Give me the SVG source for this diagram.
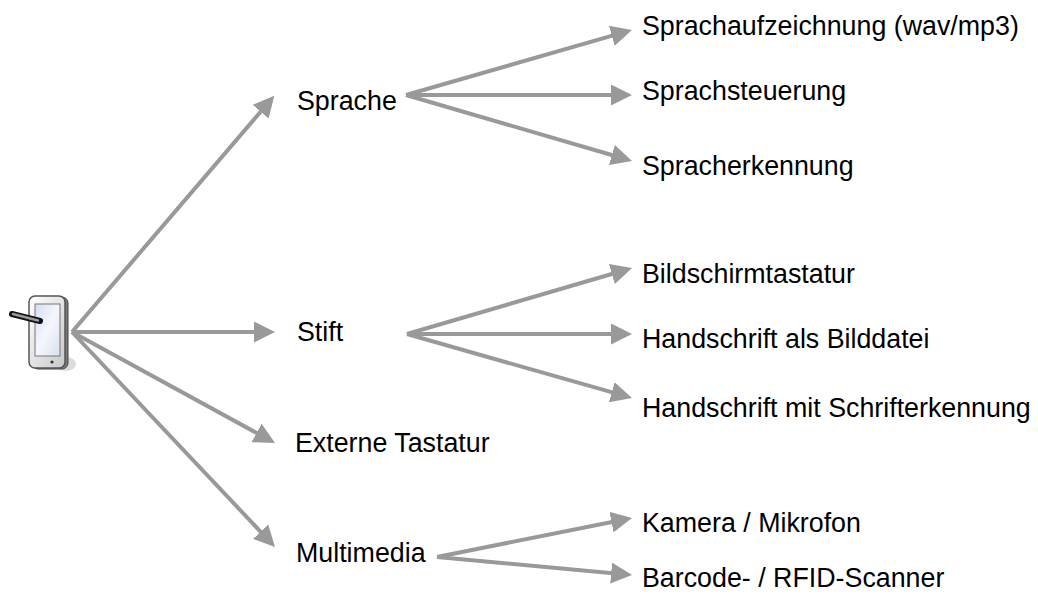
<svg xmlns="http://www.w3.org/2000/svg" width="1038" height="597" viewBox="0 0 1038 597">
<style>
.lbl{font-family:"Liberation Sans",Arial,sans-serif;font-size:26.8px;fill:#000}
.con{stroke:#999;stroke-width:4;fill:none;marker-end:url(#ah)}
</style>
<defs>
<marker id="ah" viewBox="0 0 21 21" markerWidth="21" markerHeight="21" markerUnits="userSpaceOnUse" refX="7" refY="10.5" orient="auto">
<path d="M0,0 L21,10.5 L0,21 z" fill="#999"/>
</marker>
<linearGradient id="bez" x1="0" y1="0" x2="1" y2="1">
<stop offset="0" stop-color="#ffffff"/>
<stop offset="1" stop-color="#c8c8c8"/>
</linearGradient>
<linearGradient id="scr" x1="0" y1="0" x2="1" y2="1">
<stop offset="0" stop-color="#d4def0"/>
<stop offset="0.5" stop-color="#f4f7fd"/>
<stop offset="1" stop-color="#d8e0ee"/>
</linearGradient>
</defs>
<g id="tablet">
<ellipse cx="66" cy="364" rx="10" ry="7" fill="#dcdcdc"/>
<rect x="32" y="297" width="36" height="72" rx="6" fill="#7a7a7a" stroke="#444" stroke-width="1"/>
<rect x="29" y="296" width="36" height="72" rx="6" fill="url(#bez)" stroke="#555" stroke-width="1.5"/>
<rect x="35" y="304" width="25" height="52" fill="url(#scr)" stroke="#777" stroke-width="1"/>
<circle cx="52" cy="362" r="1.6" fill="#333"/>
<line x1="12" y1="314" x2="40" y2="321" stroke="#111" stroke-width="6" stroke-linecap="round"/>
<line x1="13" y1="314" x2="38" y2="320.5" stroke="#9a9a9a" stroke-width="2.5" stroke-linecap="round"/>
</g>
<g id="connectors">
<line class="con" x1="72" y1="332" x2="265.2" y2="106.4"/>
<line class="con" x1="72" y1="332" x2="261" y2="332"/>
<line class="con" x1="72" y1="332" x2="262.7" y2="436.3"/>
<line class="con" x1="72" y1="332" x2="265.4" y2="536.8"/>
<line class="con" x1="406" y1="95" x2="618.5" y2="33.8"/>
<line class="con" x1="406" y1="95" x2="618" y2="95"/>
<line class="con" x1="406" y1="95" x2="618.6" y2="157"/>
<line class="con" x1="407" y1="334" x2="618.6" y2="272"/>
<line class="con" x1="407" y1="334" x2="618" y2="334"/>
<line class="con" x1="407" y1="334" x2="618.5" y2="394.2"/>
<line class="con" x1="437" y1="557" x2="618.3" y2="520.7"/>
<line class="con" x1="437" y1="557" x2="618.1" y2="573.7"/>
</g>
<g id="n-sprache"><text class="lbl" x="297" y="110">Sprache</text></g>
<g id="n-stift"><text class="lbl" x="297" y="341">Stift</text></g>
<g id="n-externe"><text class="lbl" x="295" y="452">Externe Tastatur</text></g>
<g id="n-multimedia"><text class="lbl" x="296" y="562">Multimedia</text></g>
<g id="n-sprachaufzeichnung"><text class="lbl" x="642" y="35">Sprachaufzeichnung (wav/mp3)</text></g>
<g id="n-sprachsteuerung"><text class="lbl" x="642" y="100">Sprachsteuerung</text></g>
<g id="n-spracherkennung"><text class="lbl" x="642" y="175">Spracherkennung</text></g>
<g id="n-bildschirmtastatur"><text class="lbl" x="642" y="283">Bildschirmtastatur</text></g>
<g id="n-handschrift-bild"><text class="lbl" x="642" y="348">Handschrift als Bilddatei</text></g>
<g id="n-handschrift-schrift"><text class="lbl" x="642" y="417">Handschrift mit Schrifterkennung</text></g>
<g id="n-kamera"><text class="lbl" x="642" y="532">Kamera / Mikrofon</text></g>
<g id="n-barcode"><text class="lbl" x="642" y="587">Barcode- / RFID-Scanner</text></g>
</svg>
